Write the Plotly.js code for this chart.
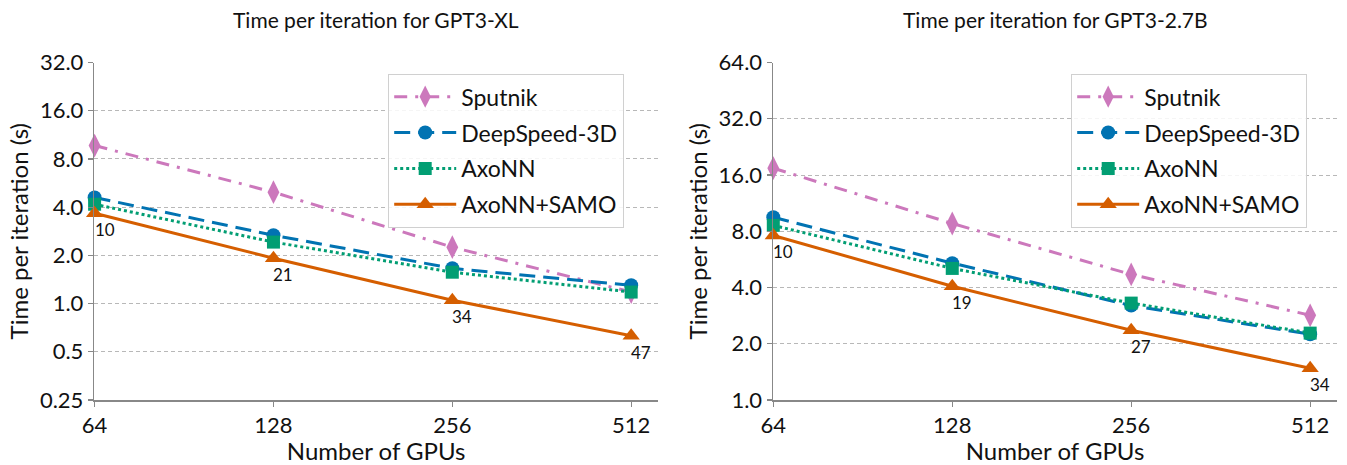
<!DOCTYPE html>
<html>
<head>
<meta charset="utf-8">
<script src="https://cdn.plot.ly/plotly-3.0.1.min.js"></script>
<style>html,body{margin:0;padding:0;background:#fff;}#chart{width:1347px;height:465px;}</style>
</head>
<body>
<div id="chart"></div>
<script>
// ---- data ----
const gpus = [64, 128, 256, 512];
const xTickText = ['64', '128', '256', '512'];

const seriesNames = ['Sputnik', 'DeepSpeed-3D', 'AxoNN', 'AxoNN+SAMO'];

const xlSputnik   = [9.7, 4.96, 2.25, 1.18];
const xlDeepSpeed = [4.6, 2.67, 1.66, 1.30];
const xlAxoNN     = [4.17, 2.42, 1.57, 1.18];
const xlSAMO      = [3.66, 1.92, 1.05, 0.63];
const xlSpeedupLabels = ['10', '21', '34', '47'];

const b27Sputnik   = [17.4, 8.8, 4.7, 2.84];
const b27DeepSpeed = [9.5, 5.4, 3.2, 2.25];
const b27AxoNN     = [8.6, 5.06, 3.3, 2.28];
const b27SAMO      = [7.6, 4.06, 2.36, 1.48];
const b27SpeedupLabels = ['10', '19', '27', '34'];

const xlYTickVals = [0.25, 0.5, 1, 2, 4, 8, 16, 32];
const xlYTickText = ['0.25', '0.5', '1.0', '2.0', '4.0', '8.0', '16.0', '32.0'];
const b27YTickVals = [1, 2, 4, 8, 16, 32, 64];
const b27YTickText = ['1.0', '2.0', '4.0', '8.0', '16.0', '32.0', '64.0'];

const titles = ['Time per iteration for GPT3-XL', 'Time per iteration for GPT3-2.7B'];

// ---- styles ----
const FONT = 'Lato, "DejaVu Sans", sans-serif';
const styles = [
  {color: '#CC78BC', dash: '13px,8px,3px,8px', symbol: 'diamond-tall', size: 17},
  {color: '#0173B2', dash: '16px,8px', symbol: 'circle', size: 14},
  {color: '#029E73', dash: '3px,3px', symbol: 'square', size: 13},
  {color: '#D55E00', dash: 'solid', symbol: 'triangle-up', size: 15}
];

function mk(xa, ya, leg, ys, i) {
  const s = styles[i];
  return {
    x: gpus, y: ys, xaxis: xa, yaxis: ya, legend: leg,
    name: seriesNames[i], legendgroup: leg + '_' + i, type: 'scatter', mode: 'lines+markers',
    line: {color: s.color, width: 3, dash: s.dash},
    marker: {color: s.color, symbol: s.symbol, size: s.size, line: {width: 0}},
    cliponaxis: false
  };
}

const data = [
  mk('x', 'y', 'legend', xlSputnik, 0),
  mk('x', 'y', 'legend', xlDeepSpeed, 1),
  mk('x', 'y', 'legend', xlAxoNN, 2),
  mk('x', 'y', 'legend', xlSAMO, 3),
  mk('x2', 'y2', 'legend2', b27Sputnik, 0),
  mk('x2', 'y2', 'legend2', b27DeepSpeed, 1),
  mk('x2', 'y2', 'legend2', b27AxoNN, 2),
  mk('x2', 'y2', 'legend2', b27SAMO, 3)
];

const annotations = [];
gpus.forEach((g, k) => {
  annotations.push({x: Math.log10(g), y: Math.log10(xlSAMO[k]), xref: 'x', yref: 'y',
    text: xlSpeedupLabels[k], showarrow: false, xanchor: 'left', yanchor: 'top',
    xshift: -2, yshift: -4, font: {family: FONT, size: 17, color: '#111'}});
  annotations.push({x: Math.log10(g), y: Math.log10(b27SAMO[k]), xref: 'x2', yref: 'y2',
    text: b27SpeedupLabels[k], showarrow: false, xanchor: 'left', yanchor: 'top',
    xshift: -2, yshift: -4, font: {family: FONT, size: 17, color: '#111'}});
});
annotations.push({x: 0.2793, y: 1 - 20/465, xref: 'paper', yref: 'paper', text: titles[0],
  showarrow: false, xanchor: 'center', yanchor: 'middle', font: {family: FONT, size: 21, color: '#111'}});
annotations.push({x: 0.7833, y: 1 - 20/465, xref: 'paper', yref: 'paper', text: titles[1],
  showarrow: false, xanchor: 'center', yanchor: 'middle', font: {family: FONT, size: 21, color: '#111'}});

const yDom = [1 - 400/465, 1 - 62.5/465];
const axisCommon = {
  type: 'log', showline: true, linecolor: '#888', linewidth: 1.5, ticks: 'outside',
  ticklen: 5, tickcolor: '#888', tickwidth: 1.2, zeroline: false,
  tickfont: {family: FONT, size: 22, color: '#111'}
};
const xRange = [Math.log10(64) - 0.0005, Math.log10(64 * Math.pow(2, 3.15))];

function xaxisDef(domain, anchor) {
  return Object.assign({}, axisCommon, {
    domain: domain, anchor: anchor, range: xRange, tickvals: gpus, ticktext: xTickText,
    showgrid: false, ticklabelstandoff: 0,
    title: {text: 'Number of GPUs', font: {family: FONT, size: 24, color: '#111'}, standoff: 4}
  });
}
function yaxisDef(domain, anchor, rng, tv, tt) {
  return Object.assign({}, axisCommon, {
    domain: domain, anchor: anchor, range: rng, tickvals: tv, ticktext: tt,
    showgrid: true, gridcolor: '#b8b8b8', griddash: '4px,3px', gridwidth: 1,
    title: {text: 'Time per iteration (s)', font: {family: FONT, size: 24, color: '#111'}, standoff: 4}
  });
}

const legendCommon = {
  bgcolor: 'rgba(255,255,255,0.85)', bordercolor: '#d0d0d0', borderwidth: 1.2,
  font: {family: FONT, size: 23, color: '#111'}, xanchor: 'left', yanchor: 'top',
  itemwidth: 62, tracegroupgap: 3
};

const layout = {
  width: 1347, height: 465,
  margin: {l: 0, r: 0, t: 0, b: 0},
  paper_bgcolor: '#fff', plot_bgcolor: '#fff',
  font: {family: FONT, color: '#111'},
  xaxis: xaxisDef([94.3/1347, 658/1347], 'y'),
  yaxis: yaxisDef(yDom, 'x', [Math.log10(0.25), Math.log10(32)], xlYTickVals, xlYTickText),
  xaxis2: xaxisDef([773/1347, 1337/1347], 'y2'),
  yaxis2: yaxisDef(yDom, 'x2', [0, Math.log10(64)], b27YTickVals, b27YTickText),
  legend: Object.assign({}, legendCommon, {x: 388/1347, y: 1 - 74/465}),
  legend2: Object.assign({}, legendCommon, {x: 1071/1347, y: 1 - 74/465}),
  showlegend: true,
  annotations: annotations
};

Plotly.newPlot('chart', data, layout, {displayModeBar: false, staticPlot: true});
</script>
</body>
</html>
